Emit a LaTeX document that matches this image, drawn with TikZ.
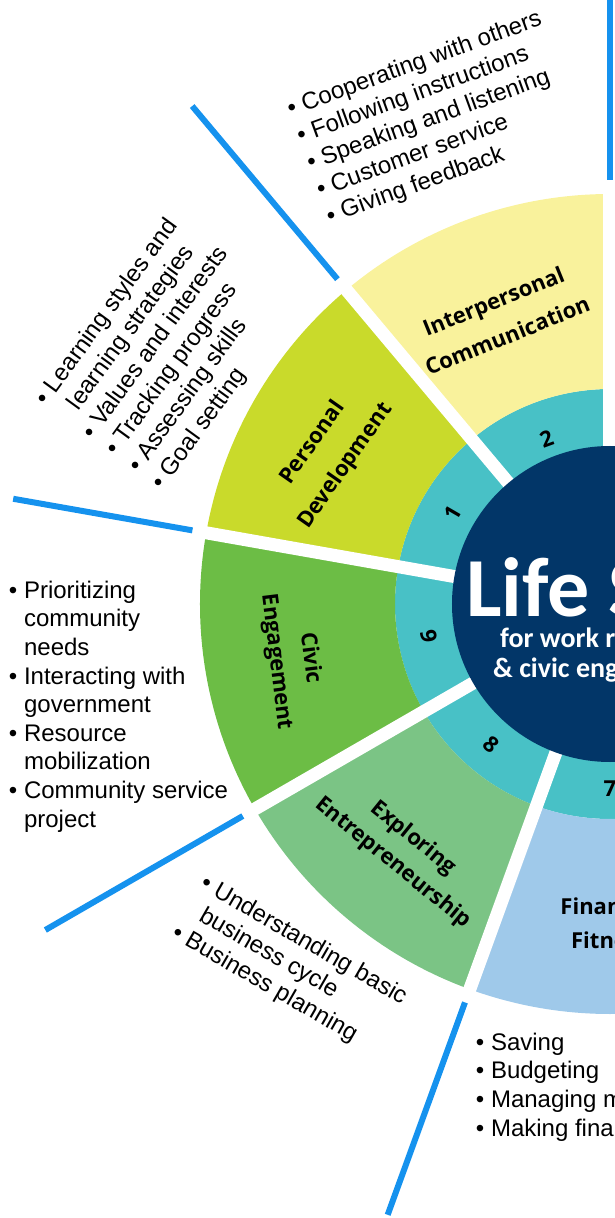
\documentclass[tikz,border=0pt]{standalone}
\usepackage{fontspec}
\setmainfont{Liberation Sans}
\newfontfamily\sectfont{Open Sans}
\newfontfamily\hubfont{Carlito}

\definecolor{hubnavy}{HTML}{023668}
\definecolor{ringteal}{HTML}{48C1C6}
\definecolor{sectyellow}{HTML}{F9F29C}
\definecolor{sectlime}{HTML}{C9DA2B}
\definecolor{sectgreen}{HTML}{6CBD45}
\definecolor{sectsage}{HTML}{7BC485}
\definecolor{sectblue}{HTML}{9FC9EA}
\definecolor{spokeblue}{HTML}{1592EE}

\newcommand{\skipbul}{\hphantom{• }}

\begin{document}
\begin{tikzpicture}[x=1pt,y=1pt,
	sectlabel/.style={font=\sectfont\bfseries\fontsize{22}{#1}\selectfont,align=center},
	ringnum/.style={font=\sectfont\bfseries\fontsize{22}{22}\selectfont},
	bullets/.style={font=\fontsize{24}{28.6}\selectfont,align=left,anchor=north west,inner sep=0pt},
	hub/.style={white,anchor=base west,inner sep=0pt},
	gap/.style={white,line width=13pt},
	spoke/.style={spokeblue,line width=6pt}]

		\useasboundingbox (-610,-614) rectangle (5,604);
		\clip (-610,-614) rectangle (5,604);
		\coordinate (O) at (0,0);

		% ring and sectors
		\fill [ringteal] (O) circle (215);
		\foreach \a/\col in {90/sectyellow,130/sectlime,170/sectgreen,210/sectsage,250/sectblue}
			\fill [\col] (\a:215) arc (\a:\a+40:215) -- (\a+40:410) arc (\a+40:\a:410) -- cycle;

		\foreach \a in {90,130,170,210,250,290}
			\draw [gap] (O) -- (\a:416);
		\fill [hubnavy] (O) circle (158);

		\foreach \a/\r in {90/650,130/650,170/606,210/652,250/650}
			\draw [spoke] (\a:424) -- (\a:\r);

		% sector names
		\node [sectlabel=37,rotate=22] (interp) at (111:306) {Interpersonal\\Communication};
		\node [sectlabel=40,rotate=55] (persdev) at (152:318) {Personal\\Development};
		\node [sectlabel=34,rotate=-83] (civic) at (190:322) {Civic\\Engagement};
		\node [sectlabel=32,rotate=-39] (explore) at (230:322) {Exploring\\Entrepreneurship};
		\node [sectlabel=34] (finfit) at (270:319) {Financial\\Fitness};

		\foreach \a/\n/\r/\d in {111/2/20/177,150/1/60/182,190/9/-80/184,230/8/-40/184,270/7/0/185}
			\node [ringnum,rotate=\r] (num\n) at (\a:\d) {\n};

		% hub
		\node [hub,font=\hubfont\bfseries\fontsize{84}{84}\selectfont] (title) at (-144,-13) {Life Skills};
		\node [hub,font=\hubfont\bfseries\fontsize{28}{28}\selectfont] (subA) at (-110,-44) {for work readiness};
		\node [hub,font=\hubfont\bfseries\fontsize{28}{28}\selectfont] (subB) at (-117,-73) {\& civic engagement};

		% skill lists
		\node [bullets,rotate=20] (commlist) at (-325.5,503.9) {• Cooperating with others\\• Following instructions\\• Speaking and listening\\• Customer service\\• Giving feedback};
		\node [bullets,rotate=54] (devlist) at (-577.4,207.7) {• Learning styles and\\\skipbul learning strategies\\• Values and interests\\• Tracking progress\\• Assessing skills\\• Goal setting};
		\node [bullets] (civiclist) at (-601.2,23.2) {• Prioritizing\\\skipbul community\\\skipbul needs\\• Interacting with\\\skipbul government\\• Resource\\\skipbul mobilization\\• Community service\\\skipbul project};
		\node [bullets,rotate=-30] (bizlist) at (-402.3,-268.5) {• Understanding basic\\\skipbul business cycle\\• Business planning};
		\node [bullets] (moneylist) at (-134.2,-428.8) {• Saving\\• Budgeting\\• Managing money\\• Making financial decisions};

\end{tikzpicture}
\end{document}
